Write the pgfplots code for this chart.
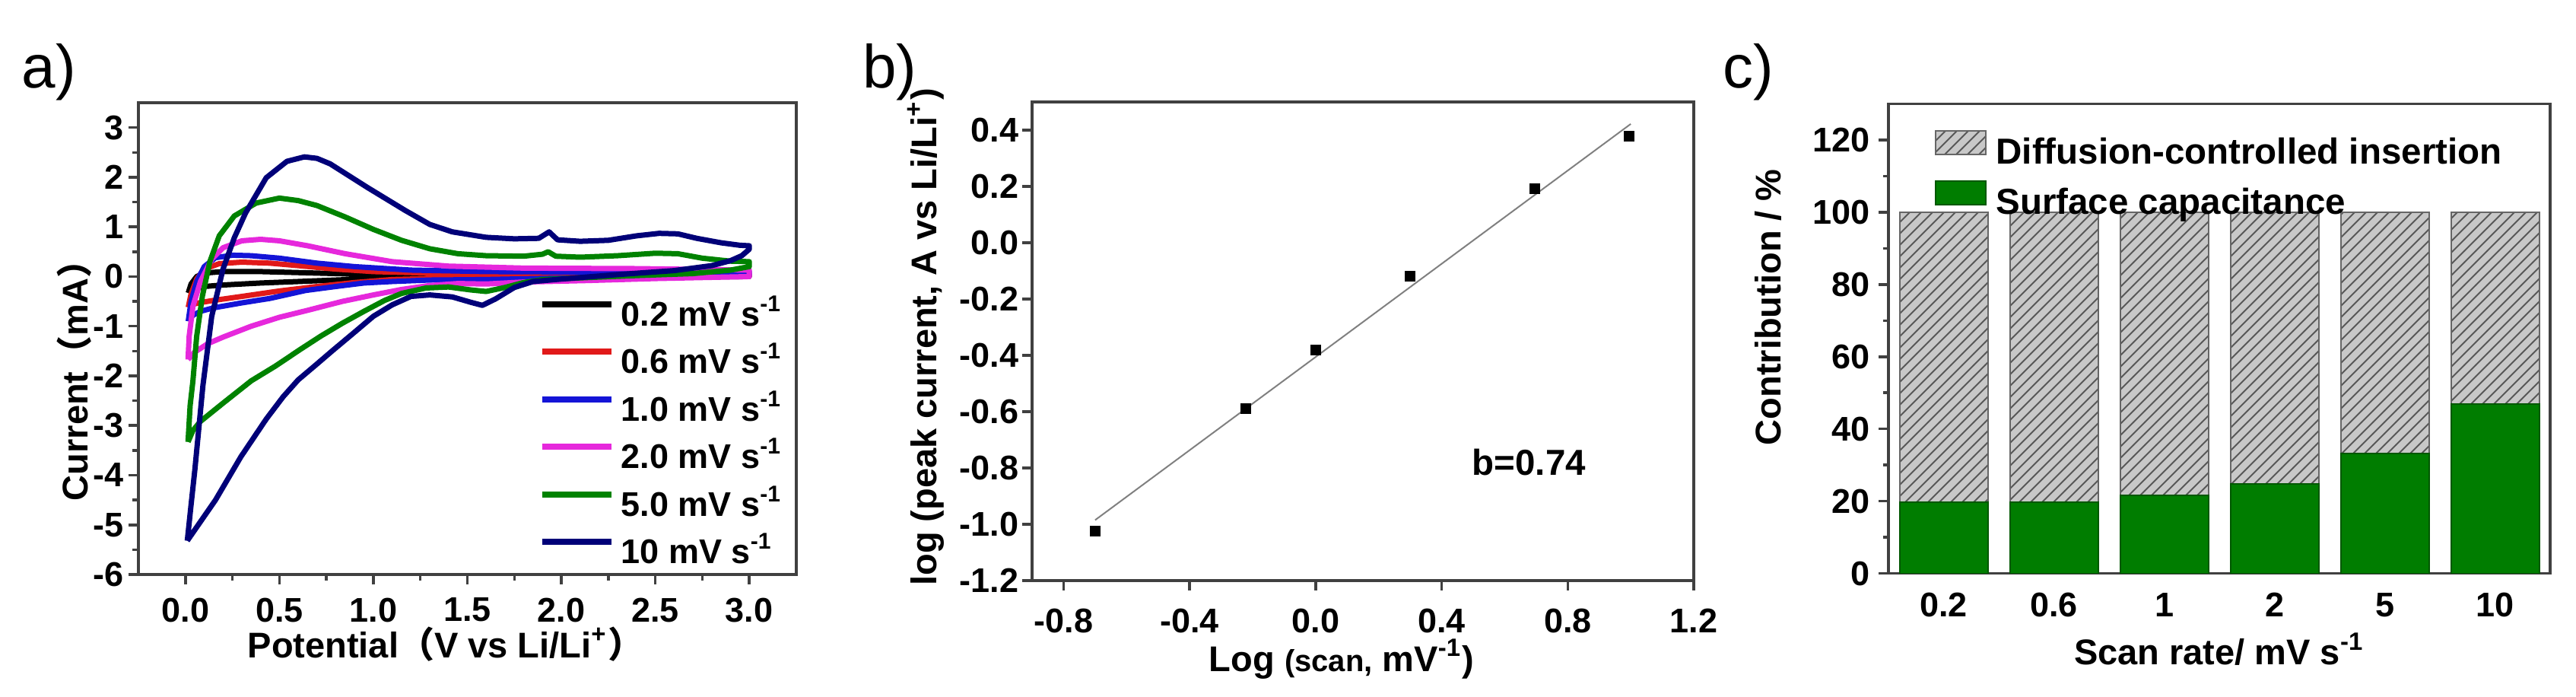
\documentclass[border=0pt]{standalone}
\usepackage{fontspec}
\setmainfont{Liberation Sans}
\newfontfamily\cjk{Noto Sans CJK SC}
\usepackage{pgfplots}
\pgfplotsset{compat=1.18}
\usetikzlibrary{patterns}
\definecolor{cvred}{RGB}{225,25,25}
\definecolor{cvblue}{RGB}{20,20,215}
\definecolor{cvmag}{RGB}{230,40,220}
\definecolor{cvgreen}{RGB}{0,130,0}
\definecolor{cvnavy}{RGB}{0,0,120}
\definecolor{bargreen}{RGB}{0,125,0}
\definecolor{bargray}{RGB}{200,200,200}
\newcommand{\tfont}{\fontsize{9}{10}\selectfont\bfseries}
\newcommand{\lfont}{\fontsize{9.4}{11}\selectfont\bfseries}
\pgfplotsset{
  myaxis/.style={
    scale only axis,
    axis line style={black!75, line width=0.7pt},
    every tick/.style={black!75, line width=0.7pt},
    tick align=outside,
    major tick length=2.6pt,
    minor tick length=1.5pt,
    tick pos=left,
    ticklabel style={font=\tfont},
    label style={font=\lfont},
    xlabel style={anchor=center},
    ylabel style={anchor=center},
  },
  cvline/.style={line width=1.4pt, line join=round},
}
\begin{document}
\begin{tikzpicture}
\useasboundingbox (0,0) rectangle (677.4pt,-183pt);
% panel labels
\node[anchor=base west, inner sep=0pt, font=\fontsize{16}{18}\selectfont] at (5.6pt,-23pt) {a)};
\node[anchor=base west, inner sep=0pt, font=\fontsize{16}{18}\selectfont] at (226.6pt,-23pt) {b)};
\node[anchor=base west, inner sep=0pt, font=\fontsize{16}{18}\selectfont] at (452.8pt,-23pt) {c)};

% ---------------- panel a ----------------
\begin{axis}[myaxis,
  at={(36.4pt,-151pt)}, anchor=south west,
  width=173pt, height=124pt,
  xmin=-0.25, xmax=3.25, ymin=-6, ymax=3.5,
  xtick={0,0.5,1,1.5,2,2.5,3},
  xticklabels={0.0,0.5,1.0,1.5,2.0,2.5,3.0},
  ytick={-6,-5,-4,-3,-2,-1,0,1,2,3},
  yticklabels={-6,-5,-4,-3,-2,-1,0,1,2,3},
  yticklabel style={xshift=2.2pt},
  minor x tick num=1, minor y tick num=1,
  xlabel={Potential{\cjk（}V vs Li/Li\textsuperscript{+}{\cjk）}},
  ylabel={Current{\cjk（}mA{\cjk）}},
  xlabel style={at={(axis description cs:0.467,-0.147)}},
  ylabel style={at={(axis description cs:-0.098,0.43)}},
  legend style={at={(axis cs:1.877,-0.44)}, anchor=north west, draw=none, fill=none,
    inner sep=0pt, column sep=1.7pt, row sep=3.5pt,
    nodes={inner sep=0pt, text height=7pt, text depth=2pt, font=\fontsize{9}{10}\selectfont\bfseries}},
  legend cell align=left,
  legend image code/.code={\draw[#1, line width=1.6pt] (0pt,3.2pt) -- (18.3pt,3.2pt);},
]
\addplot[cvline, black] coordinates {
(0.015,-0.33) (0.03,-0.15) (0.06,0.0) (0.1,0.07) (0.2,0.1) (0.4,0.1) (0.6,0.08) (0.8,0.06) (1.0,0.04) (1.5,0.02) (2.0,0.02) (2.5,0.02) (3.0,0.03)
(3.0,0.0) (2.5,-0.01) (2.0,-0.01) (1.5,-0.01) (1.2,-0.02) (1.0,-0.04) (0.8,-0.07) (0.6,-0.1) (0.4,-0.13) (0.2,-0.17) (0.1,-0.2) (0.05,-0.24) (0.015,-0.33)};
\addlegendentry{0.2 mV s\textsuperscript{-1}}
\addplot[cvline, cvred] coordinates {
(0.015,-0.62) (0.03,-0.35) (0.06,-0.05) (0.1,0.15) (0.18,0.26) (0.3,0.29) (0.45,0.27) (0.6,0.22) (0.8,0.15) (1.0,0.1) (1.3,0.07) (1.8,0.05) (2.4,0.05) (3.0,0.06)
(3.0,0.02) (2.4,0.0) (1.8,-0.02) (1.4,-0.03) (1.1,-0.06) (0.9,-0.12) (0.7,-0.2) (0.5,-0.29) (0.3,-0.4) (0.15,-0.48) (0.07,-0.53) (0.03,-0.57) (0.015,-0.62)};
\addlegendentry{0.6 mV s\textsuperscript{-1}}
\addplot[cvline, cvblue] coordinates {
(0.015,-0.9) (0.03,-0.5) (0.06,-0.1) (0.1,0.2) (0.16,0.38) (0.25,0.43) (0.35,0.42) (0.5,0.37) (0.7,0.27) (0.9,0.2) (1.2,0.13) (1.6,0.1) (2.2,0.09) (2.8,0.1) (3.0,0.1)
(3.0,0.03) (2.5,0.0) (2.0,-0.03) (1.6,-0.06) (1.3,-0.07) (1.1,-0.1) (0.95,-0.13) (0.8,-0.2) (0.64,-0.28) (0.45,-0.44) (0.3,-0.53) (0.15,-0.63) (0.08,-0.7) (0.04,-0.78) (0.015,-0.9)};
\addlegendentry{1.0 mV s\textsuperscript{-1}}
\addplot[cvline, cvmag] coordinates {
(0.014,-1.67) (0.02,-1.2) (0.04,-0.6) (0.08,-0.1) (0.14,0.35) (0.2,0.58) (0.3,0.72) (0.4,0.75) (0.5,0.72) (0.65,0.62) (0.85,0.46) (1.1,0.3) (1.4,0.21) (1.8,0.17) (2.4,0.16) (2.8,0.14) (3.0,0.13)
(3.0,0.0) (2.5,-0.04) (2.14,-0.08) (1.8,-0.11) (1.6,-0.15) (1.45,-0.14) (1.3,-0.18) (1.15,-0.26) (1.0,-0.37) (0.835,-0.5) (0.65,-0.68) (0.5,-0.82) (0.35,-1.0) (0.2,-1.22) (0.12,-1.35) (0.05,-1.52) (0.014,-1.67)};
\addlegendentry{2.0 mV s\textsuperscript{-1}}
\addplot[cvline, cvgreen] coordinates {
(0.014,-3.33) (0.025,-2.6) (0.04,-2.1) (0.06,-1.2) (0.09,-0.4) (0.13,0.3) (0.18,0.82) (0.26,1.22) (0.376,1.48) (0.5,1.58) (0.6,1.53) (0.7,1.43) (0.85,1.2) (1.0,0.95) (1.15,0.73) (1.3,0.56) (1.45,0.46) (1.6,0.42) (1.8,0.41) (1.9,0.45) (1.93,0.5) (1.97,0.41) (2.1,0.39) (2.3,0.42) (2.5,0.47) (2.62,0.46) (2.75,0.37) (2.9,0.31) (3.0,0.3)
(3.0,0.2) (2.9,0.13) (2.7,0.06) (2.4,0.02) (2.14,-0.02) (1.9,-0.06) (1.8,-0.12) (1.7,-0.22) (1.6,-0.3) (1.52,-0.27) (1.4,-0.21) (1.28,-0.23) (1.15,-0.34) (1.06,-0.48) (0.95,-0.7) (0.835,-0.94) (0.72,-1.2) (0.61,-1.47) (0.48,-1.8) (0.35,-2.1) (0.2,-2.55) (0.079,-2.92) (0.04,-3.1) (0.014,-3.33)};
\addlegendentry{5.0 mV s\textsuperscript{-1}}
\addplot[cvline, cvnavy] coordinates {
(0.01,-5.32) (0.03,-4.6) (0.05,-3.9) (0.093,-2.2) (0.14,-0.8) (0.2,0.15) (0.26,0.78) (0.32,1.28) (0.43,1.99) (0.54,2.32) (0.633,2.41) (0.7,2.38) (0.77,2.27) (0.97,1.79) (1.17,1.33) (1.3,1.05) (1.42,0.9) (1.6,0.79) (1.75,0.76) (1.88,0.77) (1.935,0.9) (1.98,0.74) (2.1,0.71) (2.25,0.73) (2.4,0.82) (2.52,0.87) (2.62,0.86) (2.72,0.77) (2.85,0.68) (2.95,0.63) (3.0,0.62)
(3.0,0.55) (2.96,0.42) (2.9,0.32) (2.8,0.22) (2.6,0.12) (2.3,0.04) (2.0,-0.05) (1.85,-0.1) (1.75,-0.22) (1.65,-0.45) (1.58,-0.58) (1.52,-0.52) (1.42,-0.41) (1.3,-0.37) (1.2,-0.4) (1.1,-0.57) (1.0,-0.8) (0.9,-1.12) (0.78,-1.5) (0.7,-1.76) (0.6,-2.08) (0.52,-2.42) (0.43,-2.87) (0.295,-3.63) (0.16,-4.5) (0.01,-5.32)};
\addlegendentry{10 mV s\textsuperscript{-1}}
\end{axis}

% ---------------- panel b ----------------
\begin{axis}[myaxis,
  at={(271.4pt,-152.6pt)}, anchor=south west,
  width=174pt, height=125.8pt,
  xmin=-0.9, xmax=1.2, ymin=-1.2, ymax=0.5,
  xtick={-0.8,-0.4,0,0.4,0.8,1.2},
  xticklabels={-0.8,-0.4,0.0,0.4,0.8,1.2},
  ytick={-1.2,-1.0,-0.8,-0.6,-0.4,-0.2,0,0.2,0.4},
  yticklabels={-1.2,-1.0,-0.8,-0.6,-0.4,-0.2,0.0,0.2,0.4},
  yticklabel style={xshift=2.6pt},
  xticklabel style={yshift=-1.2pt},
  xlabel={Log {\fontsize{8}{9}\selectfont(scan,} mV\textsuperscript{-1})},
  ylabel={log (peak current, A vs Li/Li\textsuperscript{+})},
  xlabel style={at={(axis description cs:0.468,-0.164)}},
  ylabel style={at={(axis description cs:-0.161,0.509)}},
]
\addplot[gray, line width=0.4pt] coordinates {(-0.7,-0.985) (1.0,0.422)};
\addplot[only marks, mark=square*, mark size=1.2pt, black] coordinates {
(-0.699,-1.024) (-0.222,-0.588) (0,-0.382) (0.299,-0.12) (0.695,0.192) (0.995,0.378)};
\node[font=\fontsize{9.5}{11}\selectfont\bfseries] at (axis cs:0.677,-0.78) {b=0.74};
\end{axis}

% ---------------- panel c ----------------
\begin{axis}[myaxis,
  at={(496.6pt,-150.7pt)}, anchor=south west,
  width=174pt, height=123.4pt,
  ybar stacked, bar width=0.8,
  xmin=-0.5, xmax=5.5, ymin=0, ymax=130,
  xtick={0,1,2,3,4,5},
  xticklabels={0.2,0.6,1,2,5,10},
  x tick style={draw=none},
  ytick={0,20,40,60,80,100,120},
  yticklabels={0,20,40,60,80,100,120},
  yticklabel style={xshift=1.2pt},
  xticklabel style={yshift=1pt},
  minor y tick num=1,
  xlabel={Scan rate/ mV s\textsuperscript{-1}},
  ylabel={Contribution / \%},
  xlabel style={at={(axis description cs:0.50,-0.162)}},
  ylabel style={at={(axis description cs:-0.182,0.567)}},
  reverse legend,
  legend style={at={(axis cs:-0.086,123.0)}, anchor=north west, draw=none, fill=none,
    inner sep=0pt, column sep=2.5pt, row sep=2.3pt,
    nodes={inner sep=0pt, text height=7pt, text depth=2pt, font=\fontsize{9.5}{11}\selectfont\bfseries}},
  legend cell align=left,
  legend image code/.code={\draw[#1] (0pt,-0.1pt) rectangle (13.2pt,6.2pt);},
]
\addplot[fill=bargreen, draw=bargreen!70!black, line width=0.4pt] coordinates {
(0,19.8) (1,19.8) (2,21.6) (3,24.8) (4,33.2) (5,46.9)};
\addlegendentry{Surface capacitance}
\addplot[fill=bargray, draw=black!60, line width=0.4pt,
  postaction={pattern=north east lines, pattern color=black!65}] coordinates {
(0,80.2) (1,80.2) (2,78.4) (3,75.2) (4,66.8) (5,53.1)};
\addlegendentry{Diffusion-controlled insertion}
\end{axis}
\end{tikzpicture}
\end{document}
